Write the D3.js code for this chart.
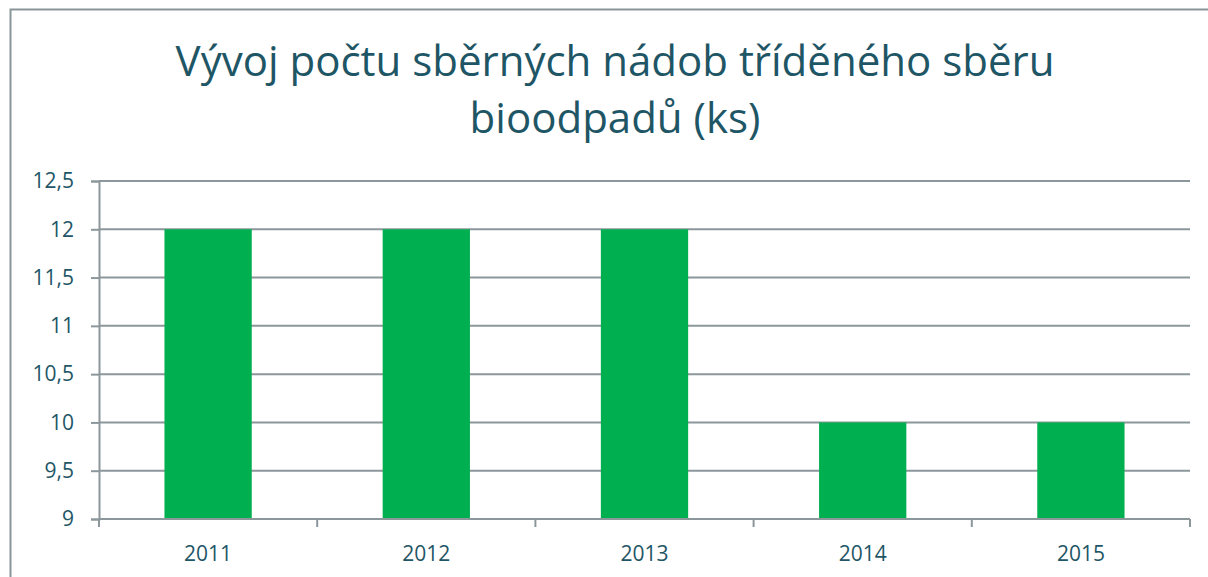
<!DOCTYPE html>
<html>
<head>
<meta charset="utf-8">
<script src="https://cdn.jsdelivr.net/npm/d3@7"></script>
<style>
  body { margin: 0; background: #fff; }
  svg { display: block; font-family: "Open Sans", "Noto Sans", sans-serif; }
</style>
</head>
<body>
<div id="chart"></div>
<script>
// chart data
const years = ["2011", "2012", "2013", "2014", "2015"];
const counts = [12, 12, 12, 10, 10];
const yTicks = [9, 9.5, 10, 10.5, 11, 11.5, 12, 12.5];
const titleLines = ["Vývoj počtu sběrných nádob tříděného sběru", "bioodpadů (ks)"];

const width = 1208,
  height = 577;
const margin = { top: 181, right: 18, bottom: 58, left: 99 };

const fontFamily = '"Open Sans", "Noto Sans", sans-serif';
const textColor = "#1f5666",
  gridColor = "#8c979c",
  barColor = "#00b050";

const svg = d3.select("#chart").append("svg")
  .attr("width", width)
  .attr("height", height);

// outer chart frame (runs off the right and bottom edge)
svg.append("rect")
  .attr("x", 10.5)
  .attr("y", 9.5)
  .attr("width", width)
  .attr("height", height)
  .attr("fill", "none")
  .attr("stroke", "#8a9599")
  .attr("stroke-width", 2);

svg.append("text")
  .attr("text-anchor", "middle")
  .attr("fill", textColor)
  .style("font-size", "42px")
  .selectAll("tspan")
  .data(titleLines)
  .join("tspan")
  .attr("x", 615)
  .attr("y", (d, i) => 76 + i * 57)
  .text(d => d);

const x = d3.scaleBand()
  .domain(years)
  .range([margin.left, width - margin.right])
  .paddingInner(0.6)
  .paddingOuter(0.3);

const y = d3.scaleLinear()
  .domain([9, 12.5])
  .range([height - margin.bottom, margin.top]);

const fmt = d => String(d).replace(".", ",");

// horizontal grid + y axis
const yAxis = svg.append("g")
  .attr("transform", `translate(${margin.left},0)`)
  .call(d3.axisLeft(y).tickValues(yTicks).tickFormat(fmt).tickSize(8).tickPadding(17))
  .attr("font-family", fontFamily);
yAxis.select(".domain").attr("stroke", gridColor).attr("stroke-width", 2);
yAxis.selectAll(".tick line").attr("stroke", gridColor).attr("stroke-width", 2);
yAxis.selectAll(".tick text").attr("fill", textColor).style("font-size", "21px");

svg.append("g")
  .selectAll("line")
  .data(yTicks)
  .join("line")
  .attr("x1", margin.left)
  .attr("x2", width - margin.right)
  .attr("y1", d => y(d))
  .attr("y2", d => y(d))
  .attr("stroke", gridColor)
  .attr("stroke-width", 2);

// bars
svg.append("g")
  .selectAll("rect")
  .data(years)
  .join("rect")
  .attr("x", d => x(d))
  .attr("width", x.bandwidth())
  .attr("y", (d, i) => y(counts[i]))
  .attr("height", (d, i) => y(9) - y(counts[i]))
  .attr("fill", barColor);

// x axis: ticks between categories
const step = x.step();
const x0 = margin.left;
const xAxis = svg.append("g")
  .attr("transform", `translate(0,${height - margin.bottom})`);
xAxis.append("line")
  .attr("x1", x0)
  .attr("x2", width - margin.right)
  .attr("stroke", gridColor)
  .attr("stroke-width", 2);
xAxis.selectAll(".sep")
  .data(d3.range(years.length + 1))
  .join("line")
  .attr("class", "sep")
  .attr("x1", i => x0 + i * step)
  .attr("x2", i => x0 + i * step)
  .attr("y1", 0)
  .attr("y2", 8)
  .attr("stroke", gridColor)
  .attr("stroke-width", 2);
xAxis.selectAll(".lbl")
  .data(years)
  .join("text")
  .attr("class", "lbl")
  .attr("x", d => x(d) + x.bandwidth() / 2)
  .attr("y", 42)
  .attr("text-anchor", "middle")
  .attr("fill", textColor)
  .style("font-size", "21px")
  .text(d => d);
</script>
</body>
</html>
